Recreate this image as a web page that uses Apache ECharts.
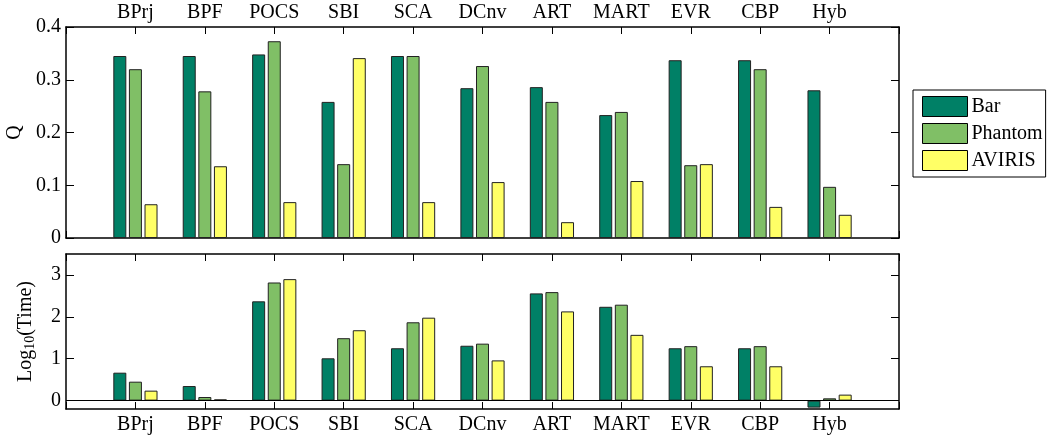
<!DOCTYPE html>
<html><head><meta charset="utf-8">
<script src="https://cdn.jsdelivr.net/npm/echarts@6/dist/echarts.min.js"></script>
<style>html,body{margin:0;padding:0;background:#fff}#c{width:1047px;height:438px}</style>
</head><body><div id="c"></div>
<script>
const categories = ['BPrj','BPF','POCS','SBI','SCA','DCnv','ART','MART','EVR','CBP','Hyb'];
const seriesNames = ['Bar','Phantom','AVIRIS'];
const qBar     = [0.345,0.345,0.348,0.258,0.345,0.284,0.286,0.233,0.337,0.337,0.280];
const qPhantom = [0.320,0.278,0.373,0.140,0.345,0.326,0.258,0.239,0.138,0.320,0.097];
const qAviris  = [0.064,0.136,0.068,0.341,0.068,0.106,0.030,0.108,0.140,0.059,0.044];
const tBar     = [0.667,0.348,2.37,1.01,1.25,1.31,2.56,2.24,1.25,1.25,-0.167];
const tPhantom = [0.452,0.086,2.82,1.49,1.87,1.36,2.59,2.29,1.30,1.30,0.055];
const tAviris  = [0.238,0.030,2.90,1.68,1.98,0.96,2.13,1.57,0.82,0.82,0.143];
const qTicks = [0,0.1,0.2,0.3,0.4];
const tTicks = [0,1,2,3];
const colors = ['#008066','#80BF66','#FFFF66'];

const FONT = '"Liberation Serif","Times New Roman",serif';
const FS = 20;
const cats = [''].concat(categories, ['']);
const pad = a => [null].concat(a, [null]);

function xAx(grid, pos, showLabel) {
  return {
    type: 'category', gridIndex: grid, position: pos, data: cats, boundaryGap: false,
    axisLine: {show: true, onZero: false, lineStyle: {color: '#000', width: 1.5}},
    axisTick: {show: true, inside: true, length: 7, lineStyle: {color: '#000'}},
    axisLabel: {show: showLabel, color: '#000', fontFamily: FONT, fontSize: FS, margin: showLabel ? (pos==='top'?4:6) : 8, interval: 0},
    splitLine: {show: false}
  };
}
function yAx(grid, pos, min, max, ticks, showLabel, name, nameGap) {
  const o = {
    type: 'value', gridIndex: grid, position: pos, min: min, max: max,
    axisLine: {show: true, lineStyle: {color: '#000', width: 1.5}},
    axisTick: {show: true, inside: true, length: 8, customValues: ticks, lineStyle: {color: '#000'}},
    axisLabel: {show: showLabel, customValues: ticks, color: '#000', fontFamily: FONT, fontSize: FS, margin: 5},
    splitLine: {show: false}
  };
  if (name) {
    o.name = name; o.nameLocation = 'middle'; o.nameGap = nameGap; o.nameRotate = 90;
    o.nameTextStyle = {color: '#000', fontFamily: FONT, fontSize: FS,
      rich: {sub: {fontFamily: FONT, fontSize: 14, verticalAlign: 'bottom', padding: [8,0,0,0], color:'#000'}}};
  }
  return o;
}
function bar(name, data, xi, yi, color, extra) {
  return Object.assign({
    name: name, type: 'bar', xAxisIndex: xi, yAxisIndex: yi, data: pad(data),
    barWidth: 13, barGap: '20%',
    itemStyle: {color: color, borderColor: '#222', borderWidth: 1},
    emphasis: {disabled: true}, animation: false
  }, extra || {});
}

const chart = echarts.init(document.getElementById('c'), null, {renderer: 'canvas'});
chart.setOption({
  animation: false,
  grid: [
    {left: 66, right: 148, top: 27, height: 211, containLabel: false, outerBoundsMode: 'none'},
    {left: 66, right: 148, top: 254, height: 155, containLabel: false, outerBoundsMode: 'none'}
  ],
  xAxis: [
    xAx(0, 'top', true), xAx(0, 'bottom', false),
    xAx(1, 'bottom', true), xAx(1, 'top', false)
  ],
  yAxis: [
    yAx(0, 'left', 0, 0.4, qTicks, true, 'Q', 41),
    yAx(0, 'right', 0, 0.4, qTicks, false),
    yAx(1, 'left', -0.2, 3.5, tTicks, true, 'Log{sub|10}(Time)', 29),
    yAx(1, 'right', -0.2, 3.5, tTicks, false)
  ],
  legend: {
    left: 913, top: 90, orient: 'vertical',
    data: seriesNames, itemWidth: 45, itemHeight: 20, itemGap: 6,
    borderColor: '#000', borderWidth: 1, padding: [6, 3, 6, 9],
    textStyle: {color: '#000', fontFamily: FONT, fontSize: FS, padding: [0,0,0,-1]},
    icon: 'rect', selectedMode: false,
    itemStyle: {borderColor: '#000', borderWidth: 1}
  },
  series: [
    bar(seriesNames[0], qBar, 0, 0, colors[0]),
    bar(seriesNames[1], qPhantom, 0, 0, colors[1]),
    bar(seriesNames[2], qAviris, 0, 0, colors[2]),
    bar(seriesNames[0], tBar, 2, 2, colors[0], {markLine: {silent: true, symbol: 'none', label: {show: false},
      lineStyle: {color: '#000', width: 1.2, type: 'solid'}, data: [{yAxis: 0}], animation: false}}),
    bar(seriesNames[1], tPhantom, 2, 2, colors[1]),
    bar(seriesNames[2], tAviris, 2, 2, colors[2])
  ]
});
</script></body></html>
